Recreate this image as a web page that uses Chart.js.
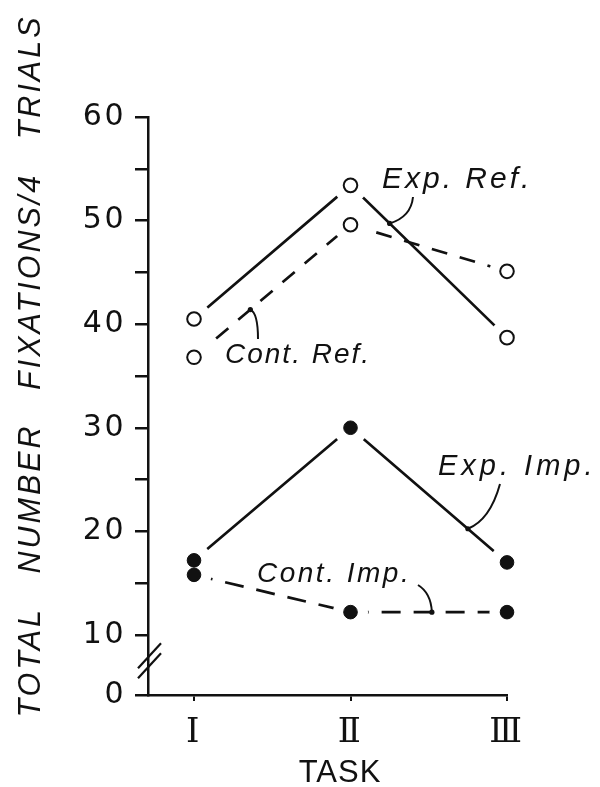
<!DOCTYPE html>
<html><head><meta charset="utf-8">
<script src="https://cdn.jsdelivr.net/npm/chart.js@4.4.0/dist/chart.umd.min.js"></script>
<style>html,body{margin:0;padding:0;background:#fff;} #wrap{width:600px;height:787px;position:relative;}</style>
</head><body><div id="wrap"><canvas id="c"></canvas></div>
<script>
// ---- data ----
const taskLabels = ['Ⅰ', 'Ⅱ', 'Ⅲ'];
const taskPositions = [1, 2, 3];
const expRef  = [40.5, 53.4, 38.7];
const contRef = [36.8, 49.6, 45.1];
const expImp  = [17.2, 30.0, 17.0];
const contImp = [15.8, 12.2, 12.2];
const yMajorTicks = [0, 10, 20, 30, 40, 50, 60];
const yMinorTicks = [15, 25, 35, 45, 55];
const yBreakValue = 4.2;   // axis value where the "0" label sits (broken axis)
const yMax = 60;
const xMin = 0.706, xMax = 3;

const INK = '#111';

function pts(arr){ return arr.map((v,i)=>({x: taskPositions[i], y: v})); }

function segPoint(chart, ds, i, t){
  const m = chart.getDatasetMeta(ds).data;
  const a = m[i], b = m[i+1];
  return {x: a.x + (b.x - a.x)*t, y: a.y + (b.y - a.y)*t};
}

const spacingPlugin = {
  id: 'spacing',
  beforeDraw(chart){ chart.ctx.letterSpacing = '2.5px'; },
  beforeDatasetsDraw(chart){ chart.ctx.letterSpacing = '0px'; }
};

const decoPlugin = {
  id: 'deco',
  afterDatasetsDraw(chart){
    const ctx = chart.ctx;
    // white gaps around markers, then redraw markers
    ctx.save();
    ctx.fillStyle = '#fff';
    chart.data.datasets.forEach((d,i)=>{
      chart.getDatasetMeta(i).data.forEach(p=>{
        ctx.beginPath(); ctx.arc(p.x, p.y, 17.5, 0, Math.PI*2); ctx.fill();
      });
    });
    ctx.restore();
    chart.data.datasets.forEach((d,i)=>{
      chart.getDatasetMeta(i).data.forEach(p=>p.draw(ctx));
    });
  },
  afterDraw(chart){
    const ctx = chart.ctx;
    const ys = chart.scales.y, xs = chart.scales.x;
    const area = chart.chartArea;
    ctx.save();
    ctx.fillStyle = INK; ctx.strokeStyle = INK;

    // axis break marks
    const bx = area.left + 1.5, by = ys.getPixelForValue(7.5);
    ctx.lineWidth = 2.2;
    [5, -5].forEach(o=>{
      ctx.beginPath();
      ctx.moveTo(bx - 11.5, by + o + 12.5);
      ctx.lineTo(bx + 11.5, by + o - 12.5);
      ctx.stroke();
    });

    // y-axis title
    ctx.save();
    ctx.translate(40, 366);
    ctx.rotate(-Math.PI/2);
    ctx.font = 'italic 30.5px "Liberation Sans"';
    ctx.letterSpacing = '3px';
    ctx.wordSpacing = '22px';
    ctx.textAlign = 'center';
    ctx.textBaseline = 'alphabetic';
    ctx.fillText('TOTAL NUMBER FIXATIONS/4 TRIALS', 0, 0);
    ctx.restore();

    // x-axis title
    ctx.font = '31px "Liberation Sans"';
    ctx.letterSpacing = '1px';
    ctx.textAlign = 'center';
    ctx.textBaseline = 'alphabetic';
    ctx.fillText('TASK', 340, 782);

    // annotations
    const labels = [
      {text:'Exp. Ref.',  x:382, y:188, size:30, ls:3},
      {text:'Cont. Ref.', x:225, y:363, size:28, ls:2},
      {text:'Exp. Imp.',  x:438, y:475, size:29, ls:4},
      {text:'Cont. Imp.', x:257, y:582, size:28, ls:2.5}
    ];
    ctx.textAlign = 'left'; ctx.textBaseline = 'alphabetic';
    labels.forEach(l=>{
      ctx.font = 'italic ' + l.size + 'px "Liberation Sans"';
      ctx.letterSpacing = l.ls + 'px';
      ctx.fillText(l.text, l.x, l.y);
    });
    ctx.letterSpacing = '0px';

    // leader curves
    const leaders = [
      {from:{x:413,y:197}, ctrl:{x:411,y:217}, to:segPoint(chart,0,1,0.25)},
      {from:{x:258,y:339}, ctrl:{x:258,y:313}, to:segPoint(chart,1,0,0.36)},
      {from:{x:500,y:484}, ctrl:{x:490,y:520}, to:segPoint(chart,2,1,0.75)},
      {from:{x:418,y:585}, ctrl:{x:431,y:593}, to:segPoint(chart,3,1,0.52)}
    ];
    ctx.lineWidth = 2;
    leaders.forEach(L=>{
      ctx.beginPath();
      ctx.moveTo(L.from.x, L.from.y);
      ctx.quadraticCurveTo(L.ctrl.x, L.ctrl.y, L.to.x, L.to.y);
      ctx.stroke();
      ctx.beginPath(); ctx.arc(L.to.x, L.to.y, 2.6, 0, Math.PI*2); ctx.fill();
    });
    ctx.restore();
  }
};

const common = {borderColor: INK, borderWidth: 2.7, pointRadius: 6.8, pointBorderColor: INK,
  fill: false, tension: 0, clip: false};

new Chart(document.getElementById('c'), {
  type: 'line',
  data: {
    datasets: [
      Object.assign({label:'Exp. Ref.',  data: pts(expRef),  pointBackgroundColor:'#fff', pointBorderWidth:2}, common),
      Object.assign({label:'Cont. Ref.', data: pts(contRef), pointBackgroundColor:'#fff', pointBorderWidth:2, borderDash:[16,13]}, common),
      Object.assign({label:'Exp. Imp.',  data: pts(expImp),  pointBackgroundColor:INK, pointBorderWidth:1}, common),
      Object.assign({label:'Cont. Imp.', data: pts(contImp), pointBackgroundColor:INK, pointBorderWidth:1, borderDash:[19,13]}, common)
    ]
  },
  options: {
    responsive: true, maintainAspectRatio: false, devicePixelRatio: 1,
    animation: false, events: [],
    layout: {padding: {top: 117, right: 93, bottom: 0, left: 0}},
    plugins: {legend: {display: false}, tooltip: {enabled: false}, title: {display: false}},
    scales: {
      x: {
        type: 'linear', min: xMin, max: xMax,
        afterBuildTicks(s){ s.ticks = taskPositions.map(v=>({value: v})); },
        ticks: {callback: v => { const i = taskPositions.indexOf(v); return i >= 0 ? taskLabels[i] : ''; },
          font: {family: 'DejaVu Serif', size: 34}, color: INK, padding: 12, autoSkip: false, maxRotation: 0},
        grid: {drawOnChartArea: false, tickLength: 6, color: INK, lineWidth: 2},
        border: {display: true, color: INK, width: 2.5},
        title: {display: false},
        afterFit(s){ s.height = 92; }
      },
      y: {
        type: 'linear', min: yBreakValue, max: yMax,
        afterBuildTicks(s){
          const vals = yMajorTicks.map(v => v === 0 ? yBreakValue : v).concat(yMinorTicks).sort((a,b)=>a-b);
          s.ticks = vals.map(v=>({value: v}));
        },
        ticks: {callback: v => v === yBreakValue ? '0' : (yMajorTicks.includes(v) ? String(v) : ''),
          font: {family: 'DejaVu Sans', size: 30}, color: INK, padding: 9, autoSkip: false},
        grid: {drawOnChartArea: false, tickLength: 13, color: INK, lineWidth: 2.5},
        border: {display: true, color: INK, width: 2.5},
        afterFit(s){ s.width = 148; }
      }
    }
  },
  plugins: [spacingPlugin, decoPlugin]
});
</script>
</body></html>
